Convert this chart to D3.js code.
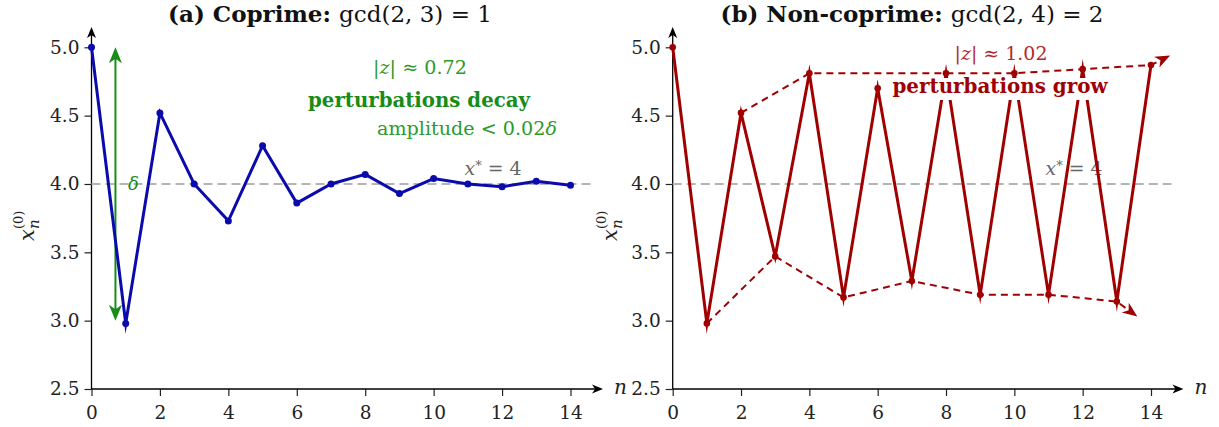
<!DOCTYPE html>
<html>
<head>
<meta charset="utf-8">
<script src="https://cdn.jsdelivr.net/npm/d3@7"></script>
<style>
  body { margin: 0; background: #fff; }
  text { font-family: "DejaVu Serif", "Liberation Serif", serif; }
</style>
</head>
<body>
<svg id="chart" width="1219" height="427"></svg>
<script>
// values
const nSteps = [0, 1, 2, 3, 4, 5, 6, 7, 8, 9, 10, 11, 12, 13, 14];
const coprimeVals = [5.0, 2.98, 4.52, 4.0, 3.73, 4.28, 3.86, 4.0, 4.07, 3.93, 4.04, 4.0, 3.98, 4.02, 3.99];
const noncoprimeVals = [5.0, 2.98, 4.52, 3.47, 4.81, 3.17, 4.70, 3.29, 4.81, 3.19, 4.81, 3.19, 4.84, 3.14, 4.87];
const upperEnvN = [2, 4, 8, 10, 12, 14];
const upperEnvVals = [4.52, 4.81, 4.81, 4.81, 4.84, 4.87];
const upperEnvTip = [14.56, 4.94];
const lowerEnvN = [1, 3, 5, 7, 9, 11, 13];
const lowerEnvVals = [2.98, 3.47, 3.17, 3.29, 3.19, 3.19, 3.14];
const lowerEnvTip = [13.6, 3.03];
const xTicks = [0, 2, 4, 6, 8, 10, 12, 14];
const yTicks = [2.5, 3.0, 3.5, 4.0, 4.5, 5.0];
const fixedPoint = 4;
const deltaArrow = { n: 0.7, top: 5.0, bottom: 3.0 };

const blue = "#0b0bad", red = "#a00000", green = "#178c17", grey = "#b4b4b4";

const svg = d3.select("#chart");

// stealth arrow head pointing from (x1,y1) to (x2,y2)
function arrowHead(g, x1, y1, x2, y2, len, hw, color) {
  const a = Math.atan2(y2 - y1, x2 - x1) * 180 / Math.PI;
  g.append("path")
    .attr("d", `M0,0L${-len},${hw}L${-len * 0.72},0L${-len},${-hw}Z`)
    .attr("transform", `translate(${x2},${y2}) rotate(${a})`)
    .attr("fill", color);
}

// scale the font so the text takes the wanted width (serif stand-in for the CM font)
function fit(t, w) {
  const fs = parseFloat(t.style("font-size"));
  const cur = t.node().getComputedTextLength();
  t.style("font-size", (fs * w / cur).toFixed(2) + "px");
  return t;
}

// text built from pieces: [string, italic?, weight]
function richText(g, x, y, size, color, parts) {
  const t = g.append("text").attr("x", x).attr("y", y).attr("text-anchor", "middle")
    .style("font-size", size + "px").attr("fill", color);
  parts.forEach(p => {
    const s = t.append("tspan").text(p[0]);
    if (p[1]) s.style("font-style", "italic");
    if (p[2]) s.style("font-weight", p[2]);
  });
  return t;
}

function drawPanel(opt) {
  const g = svg.append("g");
  const x = d3.scaleLinear().domain([0, 14]).range(opt.xRange);
  const y = d3.scaleLinear().domain([2.5, 5.0]).range([389, 47.3]);

  // axes
  const yAx = g.append("g").attr("transform", `translate(${x(0)},0)`)
    .call(d3.axisLeft(y).tickValues(yTicks).tickFormat(d3.format(".1f")).tickSize(7).tickPadding(5));
  const xAx = g.append("g").attr("transform", `translate(0,${y(2.5)})`)
    .call(d3.axisBottom(x).tickValues(xTicks).tickSize(7).tickPadding(6));
  [yAx, xAx].forEach(a => {
    a.select(".domain").remove();
    a.selectAll("line").attr("stroke", "#222").attr("stroke-width", 1.2);
    a.selectAll("text").attr("fill", "#222").style("font-size", "18.5px")
      .style("font-family", '"DejaVu Serif", serif');
  });
  xAx.selectAll("text").attr("dy", "0.92em");

  const xEnd = x(14.95), yEnd = 27;
  g.append("line").attr("x1", x(0)).attr("x2", x(0)).attr("y1", y(2.5)).attr("y2", yEnd + 4)
    .attr("stroke", "#000").attr("stroke-width", 1.3);
  arrowHead(g, x(0), y(2.5), x(0), yEnd, 11, 4.5, "#000");
  g.append("line").attr("x1", x(0)).attr("x2", xEnd - 4).attr("y1", y(2.5)).attr("y2", y(2.5))
    .attr("stroke", "#000").attr("stroke-width", 1.3);
  arrowHead(g, x(0), y(2.5), xEnd, y(2.5), 11, 4.5, "#000");
  g.append("text").attr("x", xEnd + 11).attr("y", y(2.5) + 5)
    .style("font-size", "20px").style("font-style", "italic").attr("fill", "#222").text("n");

  // y label
  const yl = g.append("g").attr("transform", `translate(${opt.yLabelX},241) rotate(-90)`);
  yl.append("text").attr("x", 0).attr("y", 0).style("font-size", "21px").style("font-style", "italic")
    .attr("fill", "#222").text("x");
  yl.append("text").attr("x", 12).attr("y", -11).style("font-size", "13px").attr("fill", "#222").text("(0)");
  yl.append("text").attr("x", 12).attr("y", 5).style("font-size", "15px").style("font-style", "italic")
    .attr("fill", "#222").text("n");

  // fixed point line
  g.append("line").attr("x1", x(0)).attr("x2", x(14.6)).attr("y1", y(fixedPoint)).attr("y2", y(fixedPoint))
    .attr("stroke", grey).attr("stroke-width", 2).attr("stroke-dasharray", "9,5");

  const lx = g.append("text").attr("x", opt.xStarX).attr("y", y(fixedPoint) - 9)
    .attr("text-anchor", "middle").style("font-size", "18px").attr("fill", "#666");
  lx.append("tspan").style("font-style", "italic").text("x");
  lx.append("tspan").attr("dy", "-0.4em").style("font-size", "0.7em").text("*");
  lx.append("tspan").attr("dy", "0.28em").text(" = 4");
  fit(lx, 57);

  // title
  const t = richText(g, opt.titleX, 22, 20, "#111",
    [[opt.titleBold, false, "bold"], [opt.titleRest, false, null]]);
  fit(t, opt.titleW);

  return { g, x, y };
}

// ----- panel (a)
const A = drawPanel({ xRange: [91.5, 570.5], yLabelX: 34, xStarX: 493, titleX: 330, titleW: 324,
  titleBold: "(a) Coprime: ", titleRest: " gcd(2, 3) = 1" });

// delta double arrow
{
  const ax = A.x(deltaArrow.n), yt = A.y(deltaArrow.top), yb = A.y(deltaArrow.bottom);
  A.g.append("line").attr("x1", ax).attr("x2", ax).attr("y1", yt + 10).attr("y2", yb - 10)
    .attr("stroke", green).attr("stroke-width", 2);
  arrowHead(A.g, ax, yb, ax, yt, 16, 6.5, green);
  arrowHead(A.g, ax, yt, ax, yb, 16, 6.5, green);
  A.g.append("text").attr("x", ax + 18).attr("y", A.y(fixedPoint) + 6).attr("text-anchor", "middle")
    .style("font-size", "18px").style("font-style", "italic").attr("fill", green).text("δ");
}

A.g.append("path").datum(nSteps.map((n, i) => [n, coprimeVals[i]]))
  .attr("d", d3.line().x(d => A.x(d[0])).y(d => A.y(d[1])))
  .attr("fill", "none").attr("stroke", blue).attr("stroke-width", 3)
  .attr("stroke-linejoin", "miter").attr("stroke-miterlimit", 12);
A.g.selectAll("circle.pt").data(nSteps).join("circle").attr("class", "pt")
  .attr("cx", n => A.x(n)).attr("cy", (n, i) => A.y(coprimeVals[i])).attr("r", 3.5).attr("fill", blue);

fit(richText(A.g, 420, 74, 18, "#2c9a2c", [["|", false], ["z", true], ["| ≈ 0.72", false]]), 94);
fit(richText(A.g, 419, 107, 18, green, [["perturbations decay", false, "bold"]]), 222);
fit(richText(A.g, 467, 135, 18, "#2c9a2c", [["amplitude < 0.02", false], ["δ", true]]), 180);

// ----- panel (b)
const B = drawPanel({ xRange: [672.7, 1151], yLabelX: 617, xStarX: 1074, titleX: 912, titleW: 383,
  titleBold: "(b) Non-coprime: ", titleRest: " gcd(2, 4) = 2" });

B.g.append("path").datum(nSteps.map((n, i) => [n, noncoprimeVals[i]]))
  .attr("d", d3.line().x(d => B.x(d[0])).y(d => B.y(d[1])))
  .attr("fill", "none").attr("stroke", red).attr("stroke-width", 3)
  .attr("stroke-linejoin", "miter").attr("stroke-miterlimit", 12);
B.g.selectAll("circle.pt").data(nSteps).join("circle").attr("class", "pt")
  .attr("cx", n => B.x(n)).attr("cy", (n, i) => B.y(noncoprimeVals[i])).attr("r", 3.3).attr("fill", red);

// envelopes
[[upperEnvN, upperEnvVals, upperEnvTip], [lowerEnvN, lowerEnvVals, lowerEnvTip]].forEach(([ns, vs, tip]) => {
  const pts = ns.map((n, i) => [B.x(n), B.y(vs[i])]);
  const last = pts[pts.length - 1];
  const tp = [B.x(tip[0]), B.y(tip[1])];
  const ang = Math.atan2(tp[1] - last[1], tp[0] - last[0]);
  const stop = [tp[0] - 9 * Math.cos(ang), tp[1] - 9 * Math.sin(ang)];
  B.g.append("path").datum(pts.concat([stop]))
    .attr("d", d3.line())
    .attr("fill", "none").attr("stroke", red).attr("stroke-width", 2).attr("stroke-dasharray", "7,5");
  arrowHead(B.g, last[0], last[1], tp[0], tp[1], 15, 6, red);
});

fit(richText(B.g, 1001, 60, 18, "#b52a2a", [["|", false], ["z", true], ["| ≈ 1.02", false]]), 93);
{
  const gt = fit(richText(B.g, 1000, 93, 18, red, [["perturbations grow", false, "bold"]]), 215);
  const bb = gt.node().getBBox();
  B.g.insert("rect", () => gt.node())
    .attr("x", bb.x - 4).attr("y", 78).attr("width", bb.width + 8).attr("height", 22).attr("fill", "#fff");
}
</script>
</body>
</html>
